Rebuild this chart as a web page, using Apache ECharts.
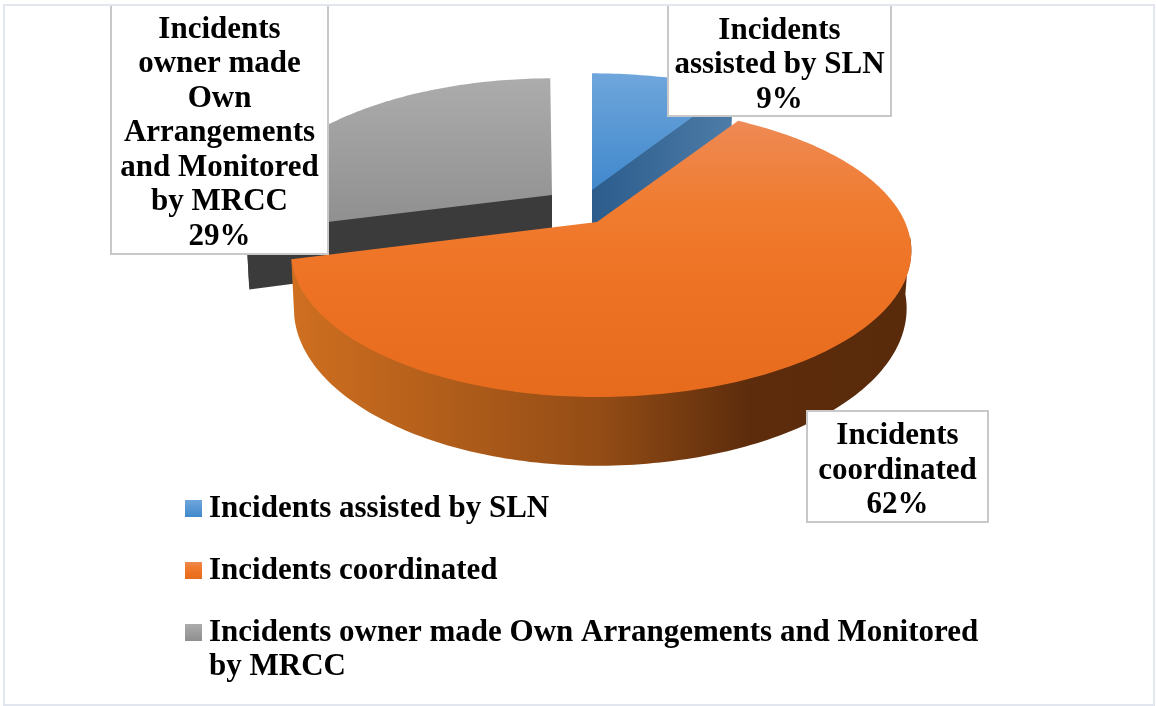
<!DOCTYPE html>
<html><head><meta charset="utf-8">
<style>html,body{margin:0;padding:0;background:#fff}#c{width:1156px;height:706px}</style>
<script src="https://cdn.jsdelivr.net/npm/echarts@6/dist/echarts.min.js"></script>
</head><body><div id="c"></div>
<script>
const categories = ['Incidents assisted by SLN', 'Incidents coordinated', 'Incidents owner made Own Arrangements and Monitored by MRCC'];
const values = [9, 62, 29];
const labelLines = [['Incidents', 'assisted by SLN'], ['Incidents', 'coordinated'], ['Incidents', 'owner made', 'Own', 'Arrangements', 'and Monitored', 'by MRCC']];
const legendFirstLine = 'Incidents owner made Own Arrangements and Monitored';
const legendSecondLine = 'by MRCC';

const FONT = '"Liberation Serif", serif';
const FS = 31;
const total = values.reduce((a, b) => a + b, 0);
const RX_RIGHT = 308, RX_LEFT = 300, RY = 140, K = 0.2, THICK = 55, BX_RIGHT = 0.985, BX_LEFT = 0.99;
const apex = [[592, 190], [597, 222], [552, 195]];
const topStops = [
  [[0, '#6fa6dc'], [1, '#4088cc']],
  [[0, '#ee8a55'], [0.3, '#f07c30'], [0.6, '#ee7224'], [1, '#e76b1d']],
  [[0, '#acacac'], [1, '#8e8e8e']]
];
const wallStops = [
  [[0, '#2c5c8c'], [1, '#4d7ca8']],
  [[0, '#cf6f20'], [0.5, '#934c15'], [0.74, '#5c2c0c'], [1, '#5a2b0b']],
  [[0, '#3b3b3b'], [1, '#3b3b3b']]
];
const boxes = [[668, 5, 223, 111], [807, 411, 181, 111], [111, 5, 217, 249]];
const firstLineY = [30.5, 436, 29.5];

function proj(deg) {
  const t = deg * Math.PI / 180, X = Math.sin(t), Y = Math.cos(t), s = 1 / (1 + K * Y);
  const rx = X < 0 ? RX_LEFT : RX_RIGHT, bx = X < 0 ? BX_LEFT : BX_RIGHT;
  return { x: X * rx * s, y: -Y * RY * s, s, bx, Y };
}
function linear(stops, horizontal) {
  return new echarts.graphic.LinearGradient(0, 0, horizontal ? 1 : 0, horizontal ? 0 : 1, stops.map(s => ({ offset: s[0], color: s[1] })));
}
function renderSlice(i) {
  return function () {
    const start = values.slice(0, i).reduce((a, b) => a + b, 0) / total * 360;
    const end = start + values[i] / total * 360;
    const [ax, ay] = apex[i];
    const top = [[ax, ay]], upper = [], lower = [];
    for (let d = start; d <= end + 1e-6; d += 1) {
      const p = proj(d);
      top.push([ax + p.x, ay + p.y]);
      if (p.Y < -0.1) {
        upper.push([ax + p.x, ay + p.y - 1]);
        lower.push([ax + p.x * p.bx, ay + p.y + THICK * p.s]);
      }
    }
    const children = [];
    if (i !== 1) {
      [proj(start), proj(end)].forEach(f => children.push({
        type: 'polygon',
        shape: { points: [[ax, ay - 1.5], [ax + f.x, ay + f.y - 1.5], [ax + f.x * f.bx, ay + f.y + THICK * f.s], [ax, ay + THICK]] },
        style: { fill: linear(wallStops[i], true) }
      }));
    }
    if (upper.length > 1) {
      children.push({ type: 'polygon', shape: { points: upper.concat(lower.slice().reverse()) }, style: { fill: linear(wallStops[i], true) } });
    }
    children.push({ type: 'polygon', shape: { points: top }, style: { fill: linear(topStops[i], false) } });
    return { type: 'group', children };
  };
}
const order = [2, 0, 1];
const series = order.map(i => ({
  type: 'custom', name: categories[i], coordinateSystem: 'none', silent: true, animation: false,
  data: [values[i]], renderItem: renderSlice(i),
  itemStyle: { color: linear(topStops[i], false) }
}));
const graphics = [];
boxes.forEach((b, i) => {
  graphics.push({ type: 'rect', z: 50, silent: true, shape: { x: b[0], y: b[1], width: b[2], height: b[3] }, style: { fill: '#fff', stroke: '#c8c8c8', lineWidth: 2 } });
  const lines = labelLines[i].concat(Math.round(values[i] / total * 100) + '%');
  graphics.push({ type: 'text', z: 51, silent: true, x: b[0] + b[2] / 2, y: firstLineY[i] - 17.25, style: { text: lines.join('\n'), font: 'bold ' + FS + 'px ' + FONT, lineHeight: 34.5, fill: '#000', align: 'center', verticalAlign: 'top' } });
});
graphics.push({ type: 'rect', z: 52, silent: true, shape: { x: 4, y: 5, width: 1150, height: 700 }, style: { fill: 'none', stroke: '#e2e6ee', lineWidth: 2 } });
graphics.push({ type: 'text', z: 51, silent: true, x: 209, y: 667, style: { text: legendSecondLine, font: 'bold ' + FS + 'px ' + FONT, fill: '#000', verticalAlign: 'middle' } });

const chart = echarts.init(document.getElementById('c'), null, { renderer: 'canvas' });
chart.setOption({
  animation: false,
  backgroundColor: '#fff',
  legend: {
    orient: 'vertical', left: 185, top: 493, padding: 0, itemWidth: 17, itemHeight: 17, itemGap: 31, selectedMode: false,
    data: categories.map(n => ({ name: n, icon: 'rect' })),
    formatter: n => n === categories[2] ? legendFirstLine : n,
    textStyle: { fontFamily: FONT, fontWeight: 'bold', fontSize: FS, color: '#000', padding: [0, 0, 0, 2] }
  },
  series, graphic: graphics
});
</script></body></html>
